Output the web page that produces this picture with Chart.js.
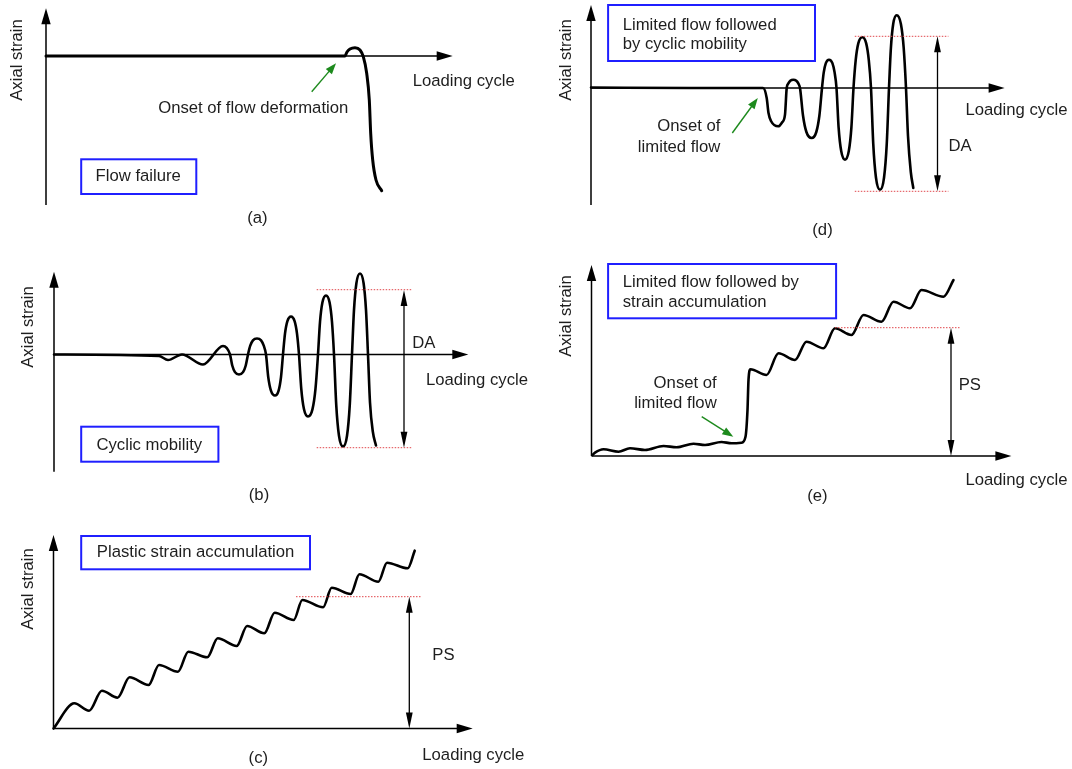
<!DOCTYPE html>
<html>
<head>
<meta charset="utf-8">
<script src="https://cdn.jsdelivr.net/npm/chart.js@4.4.1/dist/chart.umd.min.js"></script>
<style>
  html, body { margin: 0; padding: 0; background: #fff; }
  #page { position: relative; width: 1072px; height: 769px; overflow: hidden; }
  #page canvas { position: absolute; }
</style>
</head>
<body>
<div id="page">
  <canvas id="panelA" width="540" height="245" style="left:0;top:0"></canvas>
  <canvas id="panelB" width="540" height="265" style="left:0;top:250px"></canvas>
  <canvas id="panelC" width="540" height="254" style="left:0;top:515px"></canvas>
  <canvas id="panelD" width="532" height="245" style="left:540px;top:0"></canvas>
  <canvas id="panelE" width="532" height="265" style="left:540px;top:250px"></canvas>
</div>
<script>
/* Schematic strain histories - one Chart.js line chart per panel */

// (a) flow failure
const flowCycle  = [0, 299, 301, 304, 309, 314, 317.3, 320.7, 323.3, 324.7, 326.7, 330, 335.7];
const flowStrain = [0, 0, 4, 7, 8.3, 6, -0.7, -17.3, -44, -77.3, -104, -124, -134.7];

// (b) cyclic mobility
const mobCycle  = [0, 105, 114, 128, 149, 169, 176, 178.25, 180.95, 185, 189.05, 191.75, 194, 196.25, 198.95, 203, 207.05, 209.75, 212, 214.25, 216.95, 221, 224.6, 227, 229, 231, 233.4, 237, 240.6, 243, 245, 247.25, 249.95, 254, 258.5, 261.5, 264, 266, 268.4, 272, 275.6, 278, 280, 282.25, 284.95, 289, 293.05, 295.75, 298, 300, 302.4, 306, 309.6, 312, 314, 316, 318.8, 322];
const mobStrain = [0, -1.5, -5.5, 0, -10, 8.5, 0, -11, -17.6, -20, -17.6, -11, 0, 8.8, 14.1, 16, 14.1, 8.8, 0, -22.6, -36.1, -41, -36.1, -22.6, 0, 20.9, 33.4, 38, 33.4, 20.9, 0, -34.1, -54.6, -62, -54.6, -34.1, 0, 32.5, 51.9, 59, 51.9, 32.5, 0, -50.6, -81, -92, -81, -50.6, 0, 44.6, 71.3, 81, 71.3, 44.6, 0, -48, -77, -91];

// (c) plastic strain accumulation
const accCycle  = [0, 20.8, 35.6, 48.4, 64, 76.1, 95.1, 105.5, 124.5, 134.8, 153.8, 164.2, 183.2, 193.6, 210.8, 221.2, 240.2, 248.8, 269.6, 278.2, 297.2, 305.9, 324.9, 333.5, 354.2, 361.2];
const accStrain = [0, 25.2, 17.8, 37.8, 30.8, 51.2, 43.5, 63.5, 56.8, 76.8, 71.2, 90.2, 82.5, 102.5, 95.2, 115.8, 108.5, 128.5, 121.2, 140.8, 134.5, 154.2, 146.8, 165.8, 160.2, 177.8];

// (d) limited flow followed by cyclic mobility
const lfCycle  = [0, 100, 172, 175.7, 177.5, 180, 187.3, 191, 194, 195.7, 197.35, 199.3, 202.3, 205.3, 207.3, 209, 212, 215.4, 220.7, 225.3, 228.4, 231, 232.75, 234.85, 238, 241.4, 243.6, 245.5, 247.6, 250.2, 254, 257.8, 260.4, 262.5, 264.7, 267.3, 271.3, 275.2, 277.8, 280, 282.25, 284.95, 289, 293.05, 295.75, 298, 299.9, 302.2, 305.7, 309.9, 312.7, 315, 317, 319.8, 322.3];
const lfStrain = [0.5, 0, 0, -10, -25, -33, -38.3, -34.5, -26.7, 0, 4.6, 7.3, 8.3, 7.3, 4.6, 0, -27.5, -44, -50, -44, -27.5, 0, 15.6, 24.9, 28.3, 24.9, 15.6, 0, -39.4, -63.1, -71.7, -63.1, -39.4, 0, 27.9, 44.6, 50.7, 44.6, 27.9, 0, -55.9, -89.5, -101.7, -89.5, -55.9, 0, 40, 64, 72.7, 64, 40, 0, -48, -84, -100];

// (e) limited flow followed by strain accumulation
const psCycle  = [1, 3.5, 12, 27, 38.5, 53.5, 72, 85, 102, 113.5, 130, 140, 150, 154, 156, 157, 159, 175, 187, 203.5, 215, 232, 243.5, 260, 272, 290, 302, 318.5, 330, 352, 362];
const psStrain = [1, 3.3, 6.7, 4.3, 7.7, 6, 10, 8.7, 12.3, 11, 14, 12.7, 13.3, 19.3, 46, 76, 86.7, 81, 102.7, 96, 114.3, 107.7, 127.7, 121, 141, 134.3, 154.3, 147.7, 166, 159.3, 176];

const FONT = "16.7px 'Liberation Sans', Arial, sans-serif";
const INK = '#1e1e1e';
const BOX_BLUE = '#1f1fff';
const ARROW_GREEN = '#1d8a1d';
const DOT_RED = '#e0474c';

function head(ctx, tx, ty, angle, len, half) {
  ctx.save();
  ctx.translate(tx, ty);
  ctx.rotate(angle);
  ctx.beginPath();
  ctx.moveTo(0, 0);
  ctx.lineTo(-len, -half);
  ctx.lineTo(-len, half);
  ctx.closePath();
  ctx.fill();
  ctx.restore();
}

const schematic = {
  id: 'schematic',
  beforeDatasetsDraw(chart, args, spec) {
    const { ctx } = chart;
    const X = (v) => chart.scales.x.getPixelForValue(v);
    const Y = (v) => chart.scales.y.getPixelForValue(v);
    const ax = spec.axes;
    ctx.save();
    ctx.strokeStyle = '#000';
    ctx.fillStyle = '#000';
    ctx.lineWidth = 1.5;
    ctx.beginPath();
    ctx.moveTo(X(0), Y(ax.yBottom));
    ctx.lineTo(X(0), Y(ax.yTop) + 12);
    ctx.moveTo(X(0), Y(0));
    ctx.lineTo(X(ax.xTip) - 12, Y(0));
    ctx.stroke();
    head(ctx, X(0), Y(ax.yTop), -Math.PI / 2, 16, 4.7);
    head(ctx, X(ax.xTip), Y(0), 0, 16, 4.7);
    ctx.restore();
  },
  afterDatasetsDraw(chart, args, spec) {
    const { ctx } = chart;
    const X = (v) => chart.scales.x.getPixelForValue(v);
    const Y = (v) => chart.scales.y.getPixelForValue(v);
    ctx.save();

    // red dotted reference levels
    ctx.strokeStyle = DOT_RED;
    ctx.lineWidth = 1;
    ctx.setLineDash([1.5, 1.5]);
    (spec.refLines || []).forEach((r) => {
      ctx.beginPath();
      ctx.moveTo(X(r.x0), Y(r.y));
      ctx.lineTo(X(r.x1), Y(r.y));
      ctx.stroke();
    });
    ctx.setLineDash([]);

    // double-headed dimension arrows (DA / PS)
    ctx.strokeStyle = '#000';
    ctx.fillStyle = '#000';
    ctx.lineWidth = 1.3;
    (spec.dims || []).forEach((d) => {
      ctx.beginPath();
      ctx.moveTo(X(d.x), Y(d.y0) + 10);
      ctx.lineTo(X(d.x), Y(d.y1) - 10);
      ctx.stroke();
      head(ctx, X(d.x), Y(d.y0), -Math.PI / 2, 16, 3.4);
      head(ctx, X(d.x), Y(d.y1), Math.PI / 2, 16, 3.4);
    });

    // green pointer arrows
    ctx.strokeStyle = ARROW_GREEN;
    ctx.fillStyle = ARROW_GREEN;
    ctx.lineWidth = 1.4;
    (spec.pointers || []).forEach((p) => {
      const x0 = X(p.x0), y0 = Y(p.y0), x1 = X(p.x1), y1 = Y(p.y1);
      const ang = Math.atan2(y1 - y0, x1 - x0);
      ctx.beginPath();
      ctx.moveTo(x0, y0);
      ctx.lineTo(x1 - 8 * Math.cos(ang), y1 - 8 * Math.sin(ang));
      ctx.stroke();
      head(ctx, x1, y1, ang, 11, 4);
    });

    // blue label boxes
    ctx.strokeStyle = BOX_BLUE;
    ctx.lineWidth = 2;
    (spec.boxes || []).forEach((b) => {
      ctx.strokeRect(X(b.x0), Y(b.y0), X(b.x1) - X(b.x0), Y(b.y1) - Y(b.y0));
    });

    // texts
    ctx.fillStyle = INK;
    ctx.font = FONT;
    ctx.textBaseline = 'middle';
    (spec.texts || []).forEach((t) => {
      if (t.rot) {
        ctx.save();
        ctx.translate(X(t.x), Y(t.y));
        ctx.rotate(-Math.PI / 2);
        ctx.textAlign = 'center';
        ctx.fillText(t.t, 0, 0);
        ctx.restore();
      } else {
        ctx.textAlign = t.align || 'left';
        ctx.fillText(t.t, X(t.x), Y(t.y));
      }
    });
    ctx.restore();
  },
};

function makePanel(id, cycles, strains, origin, spec, lineWidth) {
  const canvas = document.getElementById(id);
  const w = canvas.width;
  const h = canvas.height;
  const points = cycles.map((c, i) => ({ x: c, y: strains[i] }));
  return new Chart(canvas.getContext('2d'), {
    type: 'line',
    data: {
      datasets: [{
        data: points,
        borderColor: '#000',
        borderWidth: lineWidth,
        pointRadius: 0,
        fill: false,
        cubicInterpolationMode: 'monotone',
        borderCapStyle: 'round',
        borderJoinStyle: 'round',
      }],
    },
    options: {
      responsive: false,
      animation: false,
      devicePixelRatio: 1,
      layout: { padding: 0 },
      plugins: {
        legend: { display: false },
        tooltip: { enabled: false },
        schematic: spec,
      },
      scales: {
        x: { type: 'linear', display: false, min: -origin[0], max: w - origin[0] },
        y: { type: 'linear', display: false, min: origin[1] - h, max: origin[1] },
      },
    },
    plugins: [schematic],
  });
}

makePanel('panelA', flowCycle, flowStrain, [46, 56], {
  axes: { yTop: 47.7, yBottom: -149, xTip: 406.7 },
  texts: [
    { t: 'Axial strain', x: -28.7, y: -4, rot: true },
    { t: 'Loading cycle', x: 366.7, y: -25.7 },
    { t: 'Onset of flow deformation', x: 302.3, y: -52.3, align: 'right' },
    { t: 'Flow failure', x: 92.2, y: -120.7, align: 'center' },
    { t: '(a)', x: 211.4, y: -162.3, align: 'center' },
  ],
  boxes: [{ x0: 35.2, x1: 150.3, y0: -103.3, y1: -138 }],
  pointers: [{ x0: 265.7, y0: -35.7, x1: 290, y1: -7.3 }],
}, 3);

makePanel('panelB', mobCycle, mobStrain, [54, 104.5], {
  axes: { yTop: 82.8, yBottom: -117.2, xTip: 414.3 },
  texts: [
    { t: 'Axial strain', x: -25.5, y: 27.5, rot: true },
    { t: 'DA', x: 358.3, y: 11.5 },
    { t: 'Loading cycle', x: 372, y: -25.8 },
    { t: 'Cyclic mobility', x: 95.3, y: -91.2, align: 'center' },
    { t: '(b)', x: 205, y: -140.8, align: 'center' },
  ],
  boxes: [{ x0: 27.2, x1: 164.4, y0: -72.2, y1: -107.2 }],
  refLines: [{ y: 64.8, x0: 262.7, x1: 358.3 }, { y: -93.2, x0: 262.7, x1: 358.3 }],
  dims: [{ x: 350, y0: 64.5, y1: -93.2 }],
}, 2.6);

makePanel('panelC', accCycle, accStrain, [53.5, 213.5], {
  axes: { yTop: 193.5, yBottom: 0, xTip: 419.2 },
  texts: [
    { t: 'Axial strain', x: -25, y: 139.5, rot: true },
    { t: 'PS', x: 378.8, y: 73.5 },
    { t: 'Loading cycle', x: 368.8, y: -26.5 },
    { t: 'Plastic strain accumulation', x: 142.1, y: 175.8, align: 'center' },
    { t: '(c)', x: 204.8, y: -29.8, align: 'center' },
  ],
  boxes: [{ x0: 27.7, x1: 256.5, y0: 192.5, y1: 159.2 }],
  refLines: [{ y: 131.8, x0: 242.5, x1: 367.2 }],
  dims: [{ x: 355.8, y0: 131.8, y1: 0 }],
}, 2.6);

makePanel('panelD', lfCycle, lfStrain, [51, 88], {
  axes: { yTop: 83, yBottom: -117, xTip: 413.6 },
  texts: [
    { t: 'Axial strain', x: -24.6, y: 28, rot: true },
    { t: 'Loading cycle', x: 374.5, y: -22 },
    { t: 'DA', x: 357.4, y: -58.7 },
    { t: 'Onset of', x: 129.4, y: -38, align: 'right' },
    { t: 'limited flow', x: 129.4, y: -59, align: 'right' },
    { t: 'Limited flow followed', x: 31.7, y: 63 },
    { t: 'by cyclic mobility', x: 31.7, y: 43.7 },
    { t: '(d)', x: 231.5, y: -142, align: 'center' },
  ],
  boxes: [{ x0: 17.1, x1: 224, y0: 83, y1: 27 }],
  pointers: [{ x0: 141.3, y0: -45, x1: 166.8, y1: -10 }],
  refLines: [{ y: 51.7, x0: 263.8, x1: 357.4 }, { y: -103.3, x0: 263.8, x1: 357.4 }],
  dims: [{ x: 346.5, y0: 51.7, y1: -103.3 }],
}, 2.6);

makePanel('panelE', psCycle, psStrain, [51.5, 206], {
  axes: { yTop: 191, yBottom: 0, xTip: 419.9 },
  texts: [
    { t: 'Axial strain', x: -25.1, y: 140, rot: true },
    { t: 'Limited flow followed by', x: 31.2, y: 173.3 },
    { t: 'strain accumulation', x: 31.2, y: 153.3 },
    { t: 'Onset of', x: 125.2, y: 72.7, align: 'right' },
    { t: 'limited flow', x: 125.2, y: 52.7, align: 'right' },
    { t: 'PS', x: 367.2, y: 71 },
    { t: 'Loading cycle', x: 374, y: -24 },
    { t: '(e)', x: 225.9, y: -40.7, align: 'center' },
  ],
  boxes: [{ x0: 16.6, x1: 244.6, y0: 192, y1: 137.7 }],
  pointers: [{ x0: 110.2, y0: 39.3, x1: 141.8, y1: 19.3 }],
  refLines: [{ y: 128.3, x0: 243.5, x1: 368.9 }],
  dims: [{ x: 359.5, y0: 128.3, y1: 0 }],
}, 2.6);
</script>
</body>
</html>
